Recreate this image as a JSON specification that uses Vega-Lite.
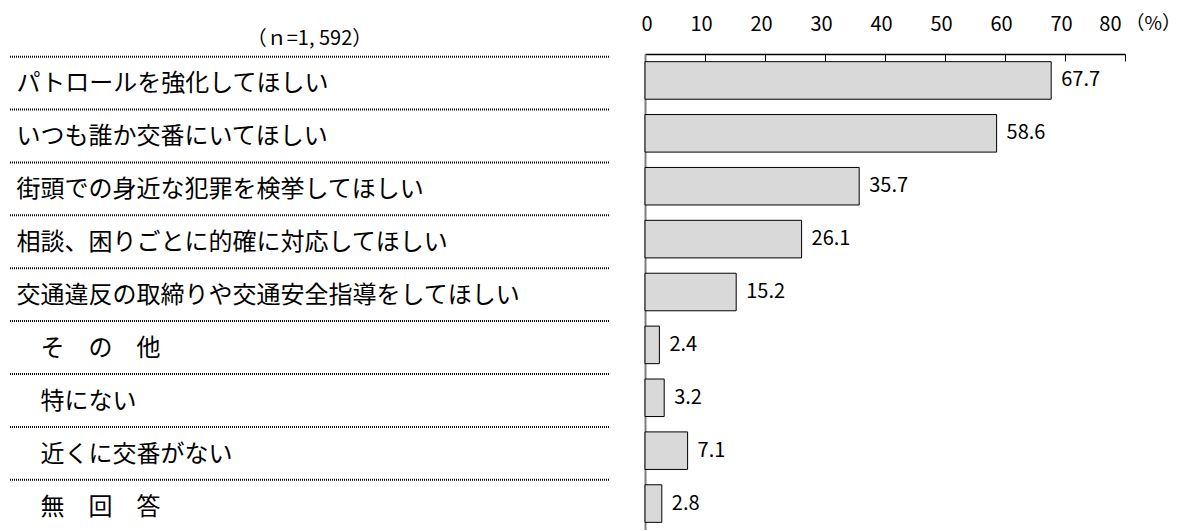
{
  "$schema": "https://vega.github.io/schema/vega-lite/v6.json",
  "padding": {"left": 9, "top": 14, "right": 0, "bottom": 0},
  "spacing": 31,
  "config": {
    "view": {"stroke": null},
    "font": "Noto Sans CJK JP",
    "title": {"fontWeight": "normal", "color": "#000000"}
  },
  "data": {
    "values": [
      {"order": 1, "label": "パトロールを強化してほしい", "value": 67.7},
      {"order": 2, "label": "いつも誰か交番にいてほしい", "value": 58.6},
      {"order": 3, "label": "街頭での身近な犯罪を検挙してほしい", "value": 35.7},
      {"order": 4, "label": "相談、困りごとに的確に対応してほしい", "value": 26.1},
      {"order": 5, "label": "交通違反の取締りや交通安全指導をしてほしい", "value": 15.2},
      {"order": 6, "label": "\u200b　そ　の　他", "value": 2.4},
      {"order": 7, "label": "\u200b　特にない", "value": 3.2},
      {"order": 8, "label": "\u200b　近くに交番がない", "value": 7.1},
      {"order": 9, "label": "\u200b　無　回　答", "value": 2.8}
    ]
  },
  "hconcat": [
    {
      "width": 599,
      "height": 476,
      "title": {
        "text": "（ｎ=1, 592）",
        "anchor": "middle",
        "fontSize": 20,
        "offset": 5
      },
      "mark": {"type": "rule", "color": "#000000", "strokeWidth": 2, "strokeDash": [1, 1], "yOffset": -5},
      "encoding": {
        "y": {
          "field": "label",
          "type": "nominal",
          "bandPosition": 0,
          "sort": {"field": "order"},
          "scale": {"paddingInner": 0.29, "paddingOuter": 0.145},
          "axis": {
            "title": null,
            "domain": false,
            "ticks": false,
            "tickSize": 0,
            "labelAlign": "left",
            "labelPadding": -6,
            "labelOffset": 4,
            "labelFontSize": 24,
            "labelColor": "#000000",
            "labelLimit": 800
          }
        }
      }
    },
    {
      "width": 480,
      "height": 476,
      "encoding": {
        "y": {
          "field": "label",
          "type": "nominal",
          "sort": {"field": "order"},
          "scale": {"paddingInner": 0.29, "paddingOuter": 0.145},
          "axis": {
            "title": null,
            "labels": false,
            "ticks": false,
            "domainColor": "#7f7f7f",
            "domainWidth": 2
          }
        },
        "x": {
          "field": "value",
          "type": "quantitative",
          "scale": {"domain": [0, 80], "nice": false},
          "axis": {
            "orient": "top",
            "values": [0, 10, 20, 30, 40, 50, 60, 70, 80],
            "grid": false,
            "domainColor": "#000000",
            "domainWidth": 1.5,
            "tickColor": "#000000",
            "tickWidth": 1,
            "tickSize": -7,
            "labelPadding": 27,
            "labelOffset": -4,
            "labelFontSize": 20,
            "labelColor": "#000000",
            "title": "（%）",
            "titleAngle": 0,
            "titleAlign": "left",
            "titleBaseline": "middle",
            "titleX": 480,
            "titleY": -31,
            "titleFontSize": 19,
            "titleFontWeight": "normal",
            "titleColor": "#000000"
          }
        }
      },
      "layer": [
        {
          "mark": {"type": "bar", "fill": "#d9d9d9", "stroke": "#000000", "strokeWidth": 1}
        },
        {
          "mark": {"type": "text", "align": "left", "baseline": "middle", "dx": 10, "fontSize": 20, "color": "#000000"},
          "encoding": {"text": {"field": "value", "type": "quantitative", "format": ".1f"}}
        }
      ]
    }
  ]
}
